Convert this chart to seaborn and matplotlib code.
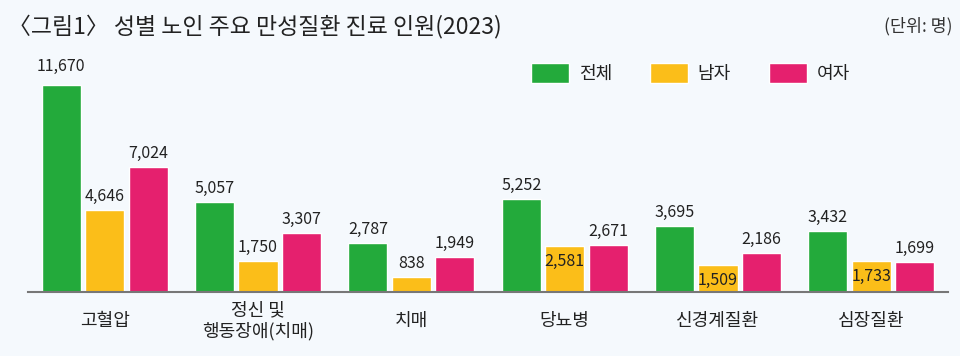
import pandas as pd
import numpy as np
import matplotlib
matplotlib.use("Agg")
import matplotlib.pyplot as plt
import seaborn as sns

# 데이터
categories = ['고혈압', '정신 및\n행동장애(치매)', '치매', '당뇨병', '신경계질환', '심장질환']
series = ['전체', '남자', '여자']
total = [11670, 5057, 2787, 5252, 3695, 3432]
male = [4646, 1750, 838, 2581, 1509, 1733]
female = [7024, 3307, 1949, 2671, 2186, 1699]
# 남자 막대 안쪽에 숫자를 적는 항목
male_inside = ['당뇨병', '신경계질환', '심장질환']

colors = ['#23AA3B', '#FBBE19', '#E5206E']
bg = '#F5F9FD'

df = pd.DataFrame({
    '질환': categories * 3,
    '구분': [s for s in series for _ in categories],
    '인원': total + male + female,
})

sns.set_style('white')
plt.rcParams['font.family'] = ['Noto Sans CJK KR', 'DejaVu Sans']

fig = plt.figure(figsize=(9.6, 3.56), dpi=100, facecolor=bg)
ax = fig.add_axes([28/960, 64/356, 920/960, 252/356])
ax.set_facecolor(bg)

sns.barplot(data=df, x='질환', y='인원', hue='구분', order=categories, hue_order=series,
            palette=colors, width=0.85, gap=0.1, saturation=1, ax=ax)

ax.set_ylim(0, 11670 * 252 / 207)
ax.set_xlim(-0.5, len(categories) - 0.5)
ax.set_xlabel('')
ax.set_ylabel('')
ax.set_yticks([])
for s in ['top', 'right', 'left']:
    ax.spines[s].set_visible(False)
ax.spines['bottom'].set_color('#777777')
ax.spines['bottom'].set_linewidth(1.5)

ax.tick_params(axis='x', length=0, pad=21, labelsize=13, labelcolor='#222222')
for lab in ax.get_xticklabels():
    lab.set_va('center')
    lab.set_linespacing(1.2)

# 막대 숫자
for si, cont in enumerate(ax.containers):
    for ci, bar in enumerate(cont):
        h = bar.get_height()
        x = bar.get_x() + bar.get_width() / 2
        txt = f'{int(round(h)):,}'
        if si == 1 and categories[ci] in male_inside:
            ax.annotate(txt, (x, h), xytext=(0, -4.5), textcoords='offset points',
                        ha='center', va='top', fontsize=11.5, color='#222222')
        else:
            off = 10 if h > 10000 else 6.5
            ax.annotate(txt, (x, h), xytext=(0, off), textcoords='offset points',
                        ha='center', va='baseline', fontsize=11.5, color='#222222')

handles, labels = ax.get_legend_handles_labels()
ax.get_legend().remove()
fig.legend(handles, labels, loc='center left', bbox_to_anchor=(531/960, 1 - 73/356),
           ncol=3, frameon=False, fontsize=13, handlelength=2.1, handleheight=1.3,
           handletextpad=0.55, columnspacing=2.1, borderpad=0, borderaxespad=0,
           labelcolor='#222222')

fig.text(8/960, 1 - 26/356, '〈그림1〉 성별 노인 주요 만성질환 진료 인원(2023)',
         ha='left', va='center', fontsize=16.5, color='#222222')
fig.text(952/960, 1 - 26/356, '(단위: 명)', ha='right', va='center',
         fontsize=12.5, color='#333333')

plt.savefig('out.png', dpi=100, facecolor=bg)
